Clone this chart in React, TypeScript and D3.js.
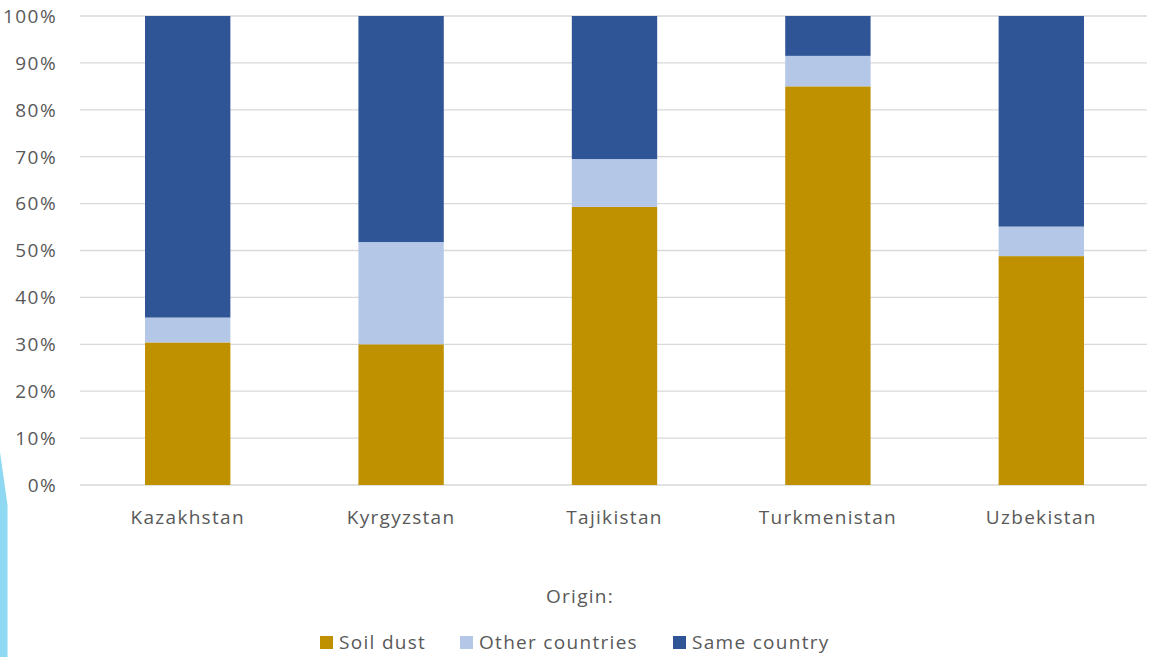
import React from "react";
import * as d3 from "d3";

// Share of concentration by origin, per country (percent)
const countries = ["Kazakhstan", "Kyrgyzstan", "Tajikistan", "Turkmenistan", "Uzbekistan"];
const soilDust = [30.4, 30.0, 59.3, 85.0, 48.8];
const otherCountries = [5.3, 21.8, 10.2, 6.5, 6.3];
const sameCountry = [64.3, 48.2, 30.5, 8.5, 44.9];
const seriesNames = ["Soil dust", "Other countries", "Same country"];
const seriesColors = ["#BF9000", "#B4C7E7", "#2F5597"];
const yTicks = [0, 10, 20, 30, 40, 50, 60, 70, 80, 90, 100];

const W = 1150;
const H = 657;
const FONT = "'Open Sans', Lato, sans-serif";

export default function App() {
  const plotLeft = 81;
  const plotRight = 1148;
  const plotTop = 16;
  const plotBottom = 485;

  const x = d3.scaleBand<string>().domain(countries).range([plotLeft, plotRight]).paddingInner(0.6).paddingOuter(0.3);
  const y = d3.scaleLinear().domain([0, 100]).range([plotBottom, plotTop]);

  const rows = countries.map((c, i) => ({
    country: c,
    s0: soilDust[i],
    s1: otherCountries[i],
    s2: sameCountry[i],
  }));
  const stack = d3.stack<any>().keys(["s0", "s1", "s2"]);
  const layers = stack(rows);

  // legend layout
  const legendItems = [
    { sq: 320, tx: 339 },
    { sq: 460, tx: 479 },
    { sq: 673, tx: 692 },
  ];

  return (
    <svg width={W} height={H} style={{ position: "absolute", left: 0, top: 0, background: "#fff" }}>
      {/* decorative side accent */}
      <path d="M0,452 L7.5,505 L7.5,657 L0,657 Z" fill="#8ED8F1" />

      {yTicks.map((t) => (
        <g key={t}>
          <line x1={80} x2={1147} y1={y(t)} y2={y(t)} stroke="#D9D9D9" strokeWidth={1.3} />
          <text x={57} y={y(t)} dy="0.36em" textAnchor="end" fontFamily={FONT} fontSize={19} letterSpacing={1.4} fill="#595959">
            {t}%
          </text>
        </g>
      ))}

      {layers.map((layer, li) =>
        layer.map((d, i) => (
          <rect
            key={`${li}-${i}`}
            x={x(countries[i])!}
            width={x.bandwidth()}
            y={y(d[1])}
            height={y(d[0]) - y(d[1])}
            fill={seriesColors[li]}
          />
        ))
      )}

      {countries.map((c) => (
        <text
          key={c}
          x={x(c)! + x.bandwidth() / 2}
          y={517}
          dy="0.36em"
          textAnchor="middle"
          fontFamily={FONT}
          fontSize={19}
          letterSpacing={1.3}
          fill="#595959"
        >
          {c}
        </text>
      ))}

      <text x={580} y={596} dy="0.36em" textAnchor="middle" fontFamily={FONT} fontSize={19} letterSpacing={1.3} fill="#595959">
        Origin:
      </text>

      {seriesNames.map((n, i) => (
        <g key={n}>
          <rect x={legendItems[i].sq} y={636} width={13} height={13} fill={seriesColors[i]} />
          <text x={legendItems[i].tx} y={642} dy="0.36em" fontFamily={FONT} fontSize={19} letterSpacing={1.3} fill="#595959">
            {n}
          </text>
        </g>
      ))}
    </svg>
  );
}
